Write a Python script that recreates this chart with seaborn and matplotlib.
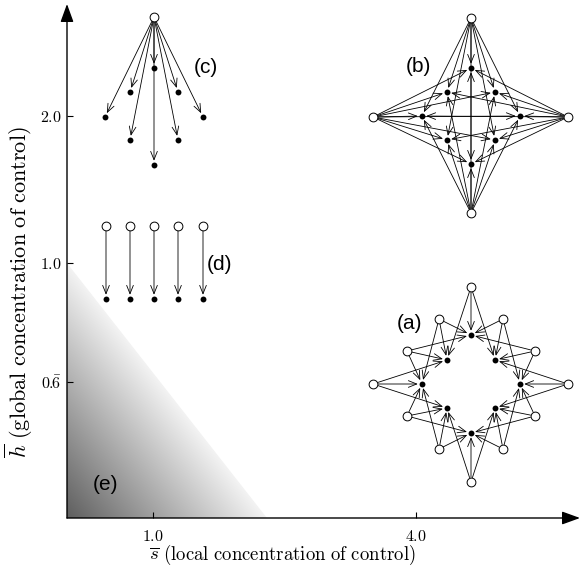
import numpy as np
import pandas as pd
import matplotlib
matplotlib.use("Agg")
import matplotlib.pyplot as plt
from matplotlib.patches import Polygon
import seaborn as sns

# =====================
# DATA (in pixel-like diagram units)
# =====================
s_tick_pos = [153, 416]
s_tick_labels = [r"$1.0$", r"$4.0$"]
h_tick_pos = [116, 263, 382]
h_tick_labels = [r"$2.0$", r"$1.0$", r"$0.\!\!\bar{6}$"]

# (c) one controller driving all eight units
c_src_x = [154]
c_src_y = [17]
c_tgt_x = [105, 130, 154, 178, 203, 130, 154, 178]
c_tgt_y = [117, 92, 68, 92, 117, 140, 165, 140]

# (d) one controller per unit
d_src_x = [106, 130, 154, 178, 203]
d_src_y = [226, 226, 226, 226, 226]
d_tgt_x = [106, 130, 154, 178, 203]
d_tgt_y = [299, 299, 299, 299, 299]

# (b) four controllers, each driving all eight units
b_src_x = [471, 373, 568, 471]
b_src_y = [18, 117, 117, 213]
b_tgt_x = [471, 447, 495, 422, 520, 447, 495, 471]
b_tgt_y = [68, 92, 92, 116, 116, 140, 140, 164]

# (a) twelve controllers, each driving three neighbouring units
a_src_x = [471, 439, 503, 407, 535, 373, 568, 407, 535, 439, 503, 471]
a_src_y = [287, 319, 319, 351, 351, 384, 384, 416, 416, 449, 449, 482]
a_tgt_x = [471, 447, 495, 422, 520, 447, 495, 471]
a_tgt_y = [335, 360, 360, 384, 384, 408, 408, 433]
a_links = [(0, 0), (0, 1), (0, 2),
           (1, 0), (1, 1), (1, 3),
           (2, 0), (2, 2), (2, 4),
           (3, 0), (3, 1), (3, 3),
           (4, 0), (4, 2), (4, 4),
           (5, 3), (5, 1), (5, 5),
           (6, 4), (6, 2), (6, 6),
           (7, 3), (7, 5), (7, 7),
           (8, 4), (8, 6), (8, 7),
           (9, 7), (9, 5), (9, 3),
           (10, 7), (10, 6), (10, 4),
           (11, 7), (11, 5), (11, 6)]

# (e) shaded region
e_tri_x = [67, 67, 267]
e_tri_y = [263, 518, 518]

panel_labels = ["(a)", "(b)", "(c)", "(d)", "(e)"]
panel_x = [410, 418, 206, 219, 106]
panel_y = [323, 66, 67, 264, 484]


def link(ax, x0, y0, x1, y1):
    ax.annotate("", xy=(x1, y1), xytext=(x0, y0),
                arrowprops=dict(arrowstyle="->,head_length=0.5,head_width=0.2",
                                lw=0.6, color="black", shrinkA=3.3, shrinkB=3.0))


sns.set_theme(style="white")
plt.rcParams["mathtext.fontset"] = "cm"
plt.rcParams["text.color"] = "black"

fig = plt.figure(figsize=(5.8, 5.74), dpi=100)
ax = fig.add_axes([67 / 580, 56 / 574, 513 / 580, 513 / 574])

# shaded triangle (e)
gx = np.linspace(e_tri_x[0], e_tri_x[2], 200)
gy = np.linspace(e_tri_y[0], e_tri_y[1], 255)
GX, GY = np.meshgrid(gx, gy)
t = 1 - ((GX - e_tri_x[0]) / (e_tri_x[2] - e_tri_x[0]) + (e_tri_y[1] - GY) / (e_tri_y[1] - e_tri_y[0]))
shade = 0.95 - np.clip(t, 0, 1) * 0.58
mesh = ax.pcolormesh(GX, GY, shade, cmap="gray", vmin=0, vmax=1, shading="auto", zorder=0)
tri = Polygon(list(zip(e_tri_x, e_tri_y)), closed=True, transform=ax.transData)
mesh.set_clip_path(tri)

# arrows
for tx, ty in zip(c_tgt_x, c_tgt_y):
    link(ax, c_src_x[0], c_src_y[0], tx, ty)
for sx, sy, tx, ty in zip(d_src_x, d_src_y, d_tgt_x, d_tgt_y):
    link(ax, sx, sy, tx, ty)
for sx, sy in zip(b_src_x, b_src_y):
    for tx, ty in zip(b_tgt_x, b_tgt_y):
        link(ax, sx, sy, tx, ty)
for i, j in a_links:
    link(ax, a_src_x[i], a_src_y[i], a_tgt_x[j], a_tgt_y[j])

# nodes
src = pd.DataFrame({"x": c_src_x + d_src_x + b_src_x + a_src_x,
                    "y": c_src_y + d_src_y + b_src_y + a_src_y})
tgt = pd.DataFrame({"x": c_tgt_x + d_tgt_x + b_tgt_x + a_tgt_x,
                    "y": c_tgt_y + d_tgt_y + b_tgt_y + a_tgt_y})
sns.scatterplot(data=src, x="x", y="y", ax=ax, s=40, color="white",
                edgecolor="black", linewidth=0.7, zorder=4)
sns.scatterplot(data=tgt, x="x", y="y", ax=ax, s=18, color="black",
                edgecolor="black", linewidth=0, zorder=4)

for lab, px, py in zip(panel_labels, panel_x, panel_y):
    ax.text(px, py, lab, ha="center", va="center", fontsize=15,
            family="Liberation Sans", color="black", zorder=5)

# axes with arrow heads
axis_arrow = dict(arrowstyle="-|>,head_length=0.55,head_width=0.2", lw=1.0,
                  color="black", mutation_scale=20, shrinkA=0, shrinkB=0)
ax.annotate("", xy=(580, 518), xytext=(67, 518), arrowprops=axis_arrow, annotation_clip=False)
ax.annotate("", xy=(67, 4), xytext=(67, 518), arrowprops=axis_arrow, annotation_clip=False)

ax.set_xlim(67, 580)
ax.set_ylim(518, 5)
for sp in ax.spines.values():
    sp.set_visible(False)
ax.set_facecolor("none")
ax.grid(False)
ax.set_xticks(s_tick_pos, labels=s_tick_labels)
ax.set_yticks(h_tick_pos, labels=h_tick_labels)
ax.tick_params(bottom=True, left=True, direction="in", length=4, width=0.8,
               color="black", labelsize=11.5, labelcolor="black")
ax.tick_params(axis="x", pad=8)
ax.tick_params(axis="y", pad=4)
ax.set_xlabel("")
ax.set_ylabel("")

ax.text(282, 555, r"$\overline{s}\ \mathrm{(local\ concentration\ of\ control)}$",
        ha="center", va="center", fontsize=13.5, clip_on=False)
ax.text(19, 292, r"$\overline{h}\ \mathrm{(global\ concentration\ of\ control)}$",
        ha="center", va="center", fontsize=16, rotation=90, clip_on=False)

fig.savefig("out.png", dpi=100)
